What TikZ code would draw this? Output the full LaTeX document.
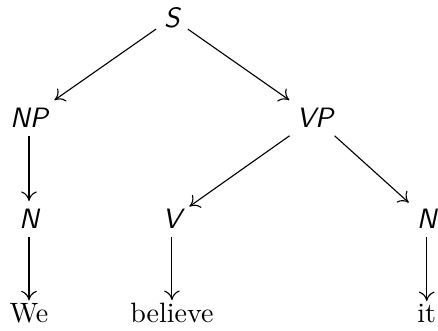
\documentclass[tikz,border=0pt]{standalone}
\usepackage{tikz}
\usetikzlibrary{arrows.meta}

\begin{document}
\begin{tikzpicture}[
  cat/.style={font=\sffamily\itshape,inner sep=2.7pt},
  word/.style={anchor=base,inner xsep=2pt,inner ysep=1pt},
  edge/.style={-{To[length=3.4pt,width=5.6pt]},thin}
]
\useasboundingbox (0,0) rectangle (5.50,-4.155);
\node[cat] (s) at (2.159,-0.226) {S};
\node[cat] (np) at (0.364,-1.481) {NP};
\node[cat] (vp) at (3.953,-1.481) {VP};
\node[cat] (n1) at (0.364,-2.748) {N};
\node[cat] (v) at (2.159,-2.748) {V};
\node[cat] (n2) at (5.359,-2.748) {N};
\node[word] (we) at (0.364,-4.054) {We};
\node[word] (believe) at (2.159,-4.054) {believe};
\node[word] (it) at (5.359,-4.054) {it};
\draw[edge] (s) -- (np);
\draw[edge] (s) -- (vp);
\draw[edge] (np) -- (n1);
\draw[edge] (vp) -- (v);
\draw[edge] (vp) -- (n2);
\draw[edge] (n1) -- (we);
\draw[edge] (v) -- (believe);
\draw[edge] (n2) -- (it);
\end{tikzpicture}
\end{document}
